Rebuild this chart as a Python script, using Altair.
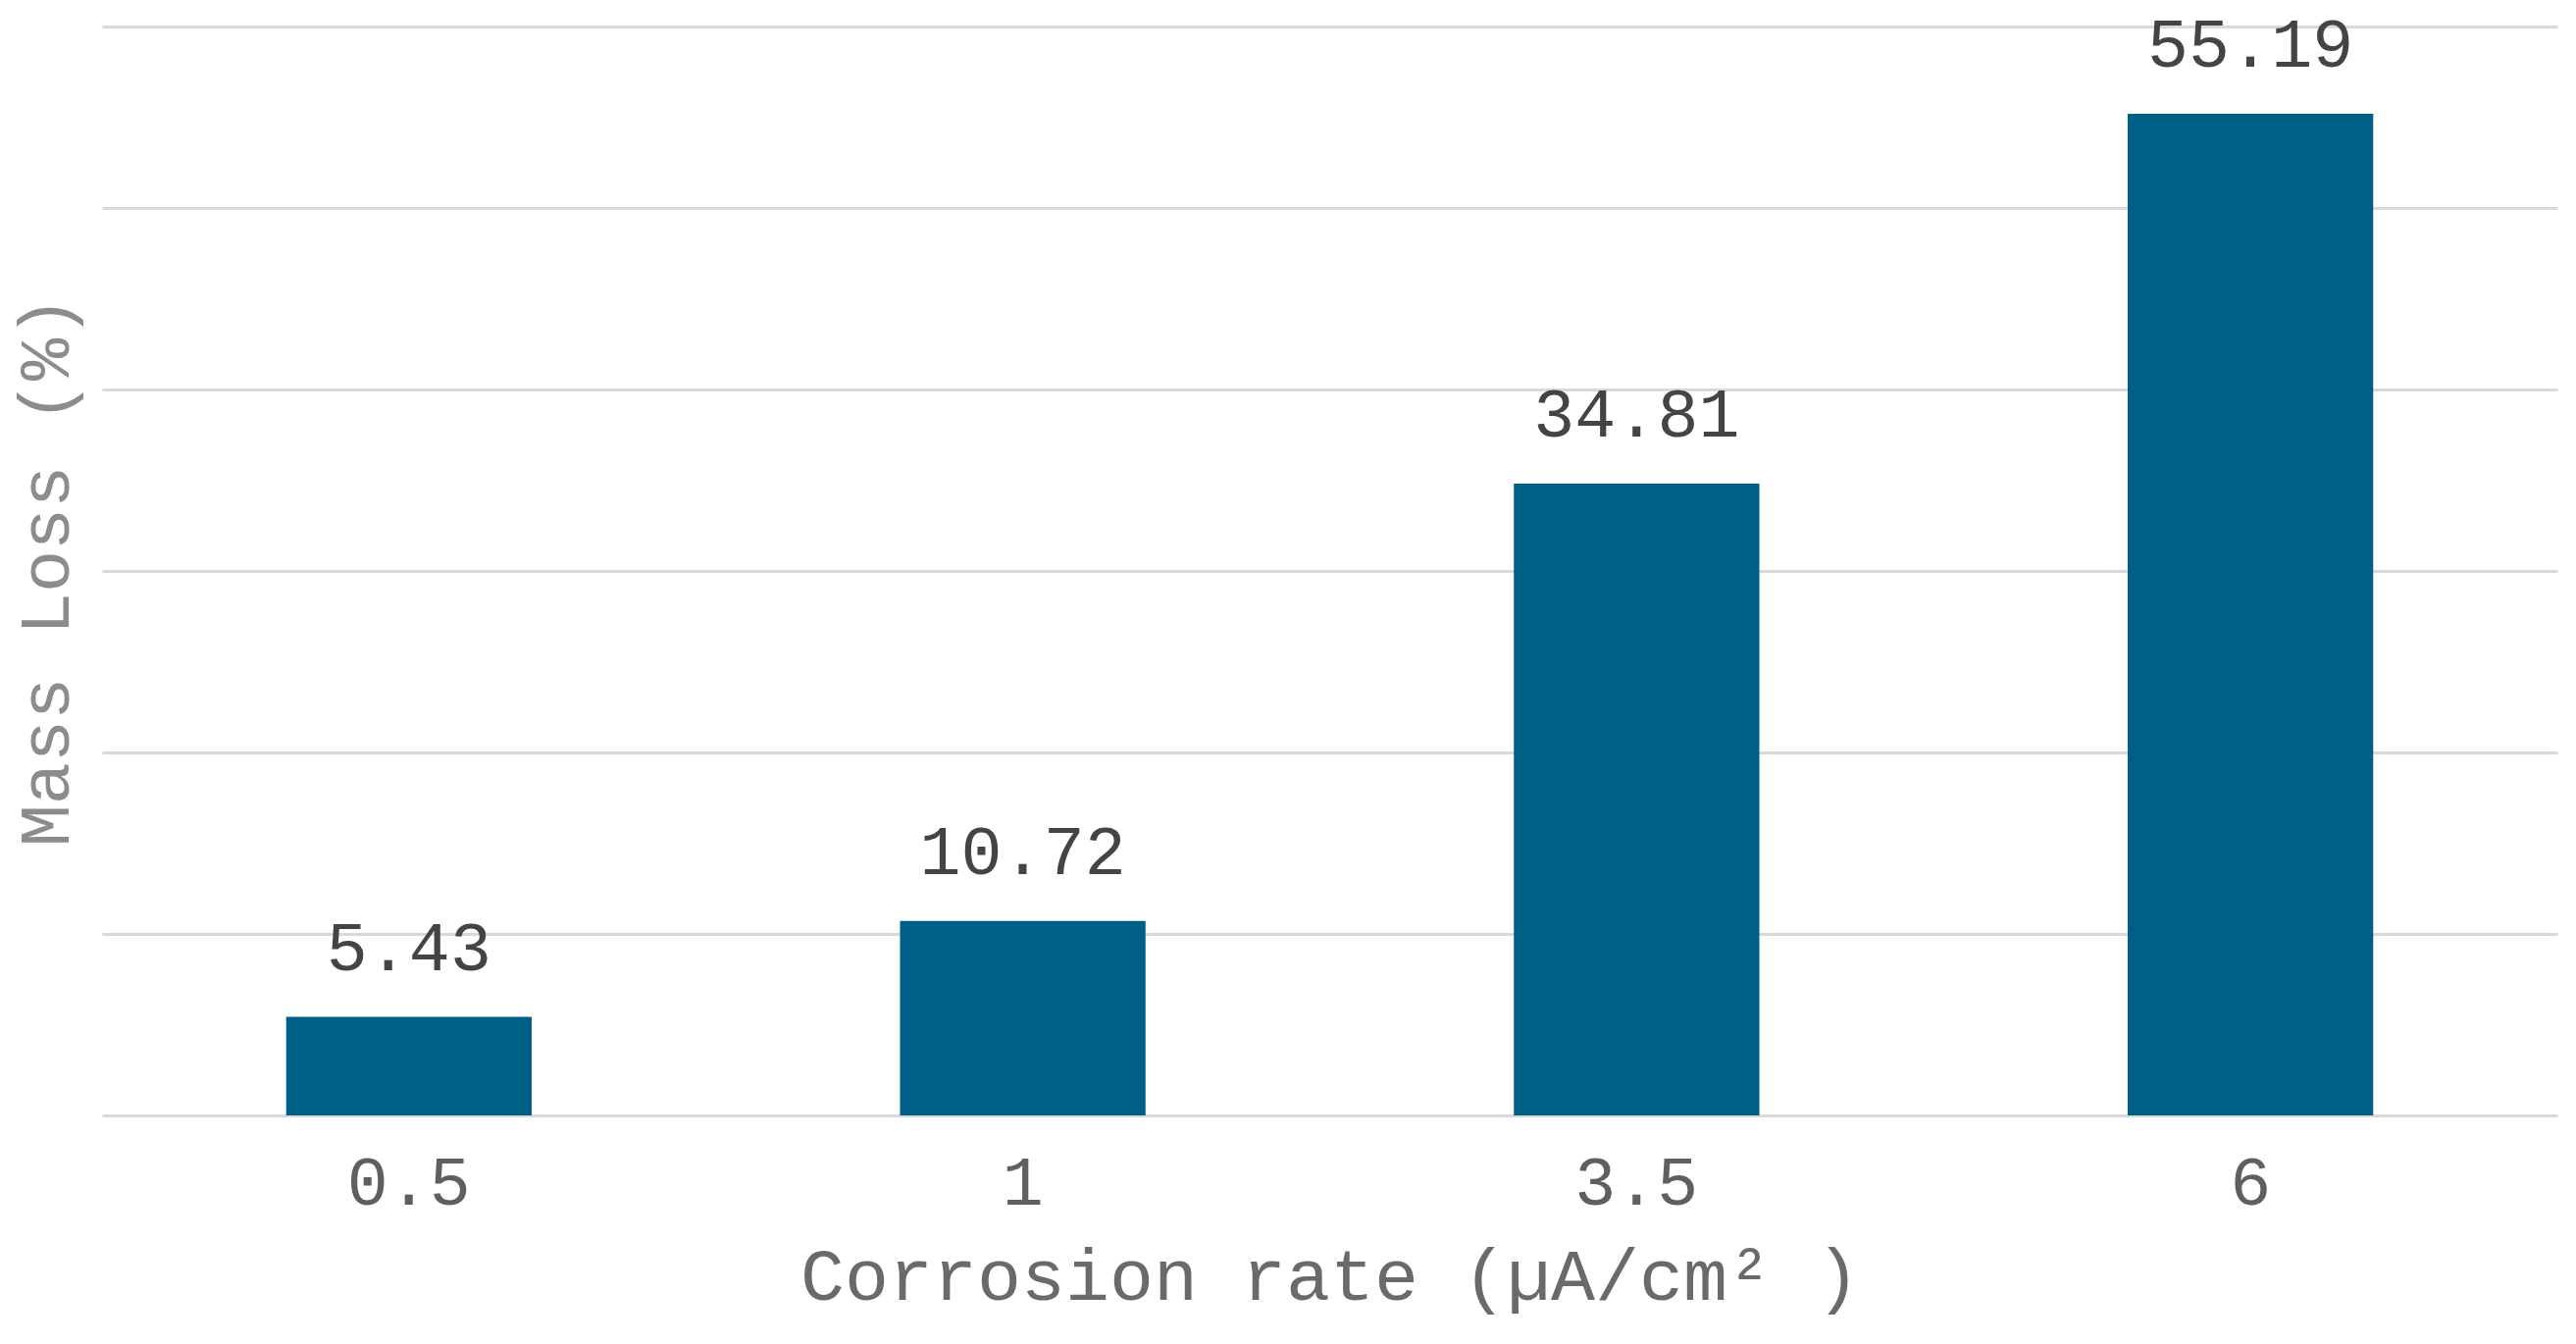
import altair as alt
import pandas as pd

categories = ["0.5", "1", "3.5", "6"]
mass_loss = [5.43, 10.72, 34.81, 55.19]
label_text = ["5.43", "10.72", "34.81", "55.19"]

df = pd.DataFrame({"rate": categories, "loss": mass_loss, "label": label_text})

FONT = "Liberation Mono"

x = alt.X(
    "rate:N",
    sort=categories,
    title="Corrosion rate (µA/cm² )",
    scale=alt.Scale(paddingInner=0.6, paddingOuter=0.3),
    axis=alt.Axis(
        labelAngle=0,
        labelFont=FONT,
        labelFontSize=70,
        labelColor="#5f5f5f",
        labelPadding=35,
        ticks=False,
        tickSize=0,
        domain=False,
        grid=False,
        titleFont=FONT,
        titleFontSize=75,
        titleFontWeight="normal",
        titleColor="#6a6a6a",
        titlePadding=24,
    ),
)

y = alt.Y(
    "loss:Q",
    title="Mass Loss (%)",
    scale=alt.Scale(domain=[0, 60], nice=False),
    axis=alt.Axis(
        values=[0, 10, 20, 30, 40, 50, 60],
        labels=False,
        ticks=False,
        tickSize=0,
        domain=False,
        grid=True,
        gridColor="#d9d9d9",
        gridWidth=3,
        titleFont=FONT,
        titleFontSize=72,
        titleFontWeight="normal",
        titleColor="#8c8c8c",
        titlePadding=20,
    ),
)

bars = alt.Chart(df).mark_bar(color="#005f86").encode(x=x, y=y)

labels = alt.Chart(df).mark_text(
    font=FONT, fontSize=70, color="#444444", baseline="alphabetic", dy=-48
).encode(x=alt.X("rate:N", sort=categories), y=alt.Y("loss:Q"), text="label:N")

chart = (
    alt.layer(bars, labels)
    .properties(
        width=2503,
        height=1110,
        padding={"left": 96, "top": 19, "right": 10, "bottom": 220},
        autosize=alt.AutoSizeParams(type="none"),
        background="white",
    )
    .configure_view(stroke=None)
)

chart.save("out.html", embed_options={"renderer": "svg", "actions": False})
